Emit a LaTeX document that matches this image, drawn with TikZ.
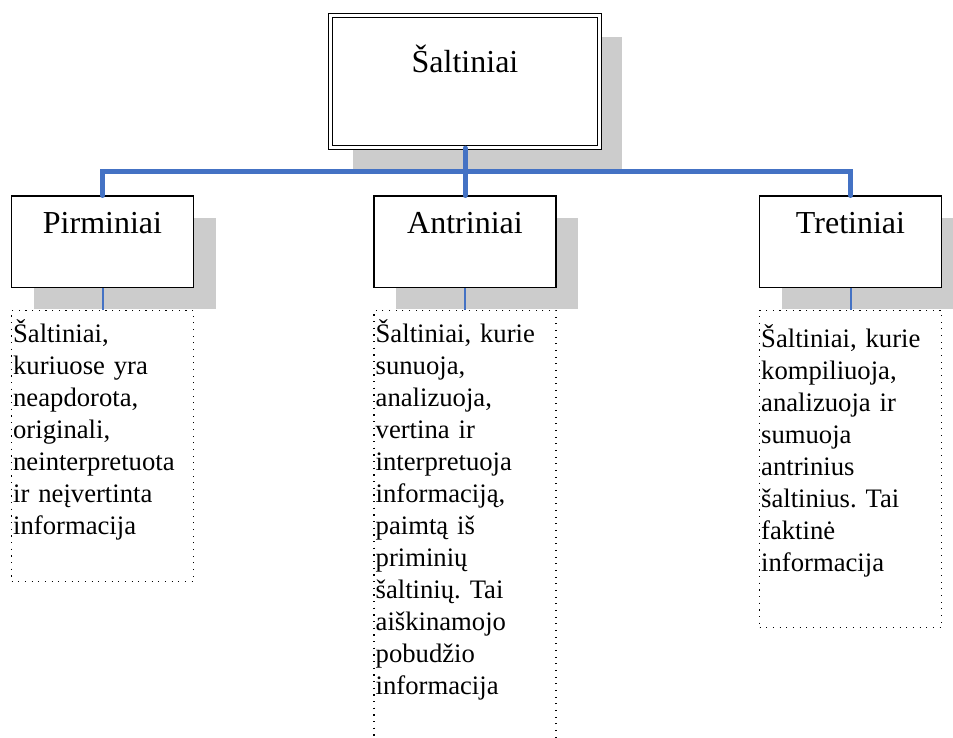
\documentclass[tikz,border=0pt]{standalone}
\usepackage{fontspec}
\setmainfont{Liberation Serif}
\frenchspacing
\usetikzlibrary{positioning,shadows}
\definecolor{linkblue}{HTML}{4472C4}
\definecolor{shade}{HTML}{CCCCCC}
\tikzset{
  head/.style={rectangle, draw=black, line width=1pt, fill=white, inner sep=0pt,
    minimum width=136.5pt, font=\fontsize{24}{28}\selectfont,
    text height=27.75pt, text depth=40.5pt,
    drop shadow={shadow xshift=16.5pt, shadow yshift=-16.5pt, fill=shade, opacity=1}},
  root/.style={head, double, double distance=2.25pt, minimum width=201.75pt,
    text height=42.4pt, text depth=56.6pt},
  desc/.style={rectangle, draw=black, line width=0.85pt, dash pattern=on 0.85pt off 4.15pt,
    inner xsep=1.25pt, inner ysep=0pt, text width=134pt, align=left,
    font=\fontsize{20}{24}\selectfont, text height=24pt},
  bus/.style={draw=linkblue, line width=3.75pt, line cap=round},
  tie/.style={draw=linkblue, line width=1.5pt},
}
\begin{document}
\begin{tikzpicture}[x=0.75pt, y=-0.75pt]
\useasboundingbox (0,0) rectangle (953,738);
\clip (0,0) rectangle (953,738);
% root
\node[root] (src) at (465,81.5) {Šaltiniai};
% three kinds
\node[head, anchor=north] (pir) at (102.5,195.5) {Pirminiai};
\node[head, anchor=north] (ant) at (465,195.5) {Antriniai};
\node[head, anchor=north] (tre) at (850.5,195.5) {Tretiniai};
\coordinate (fork) at (src.south |- 0,172);
\draw[bus] (pir.north) |- (fork) -| (tre.north);
\draw[bus] (src.south) -- (ant.north);
% descriptions
\node[desc, below=16.5pt of pir, text depth=179.25pt] (pirdesc) {Šaltiniai,\\ kuriuose yra\\ neapdorota,\\ originali,\\ neinterpretuota\\ ir neįvertinta\\ informacija};
\node[desc, below=16.5pt of ant, text depth=315pt] (antdesc) {Šaltiniai, kurie\\ sunuoja,\\ analizuoja,\\ vertina ir\\ interpretuoja\\ informaciją,\\ paimtą iš\\ priminių\\ šaltinių. Tai\\ aiškinamojo\\ pobudžio\\ informacija};
\node[desc, below=16.5pt of tre, text height=27.75pt, text depth=210pt] (tredesc) {Šaltiniai, kurie\\ kompiliuoja,\\ analizuoja ir\\ sumuoja\\ antrinius\\ šaltinius. Tai\\ faktinė\\ informacija};
\draw[tie] (pir.south) -- (pirdesc.north);
\draw[tie] (ant.south) -- (antdesc.north);
\draw[tie] (tre.south) -- (tredesc.north);
\end{tikzpicture}
\end{document}
